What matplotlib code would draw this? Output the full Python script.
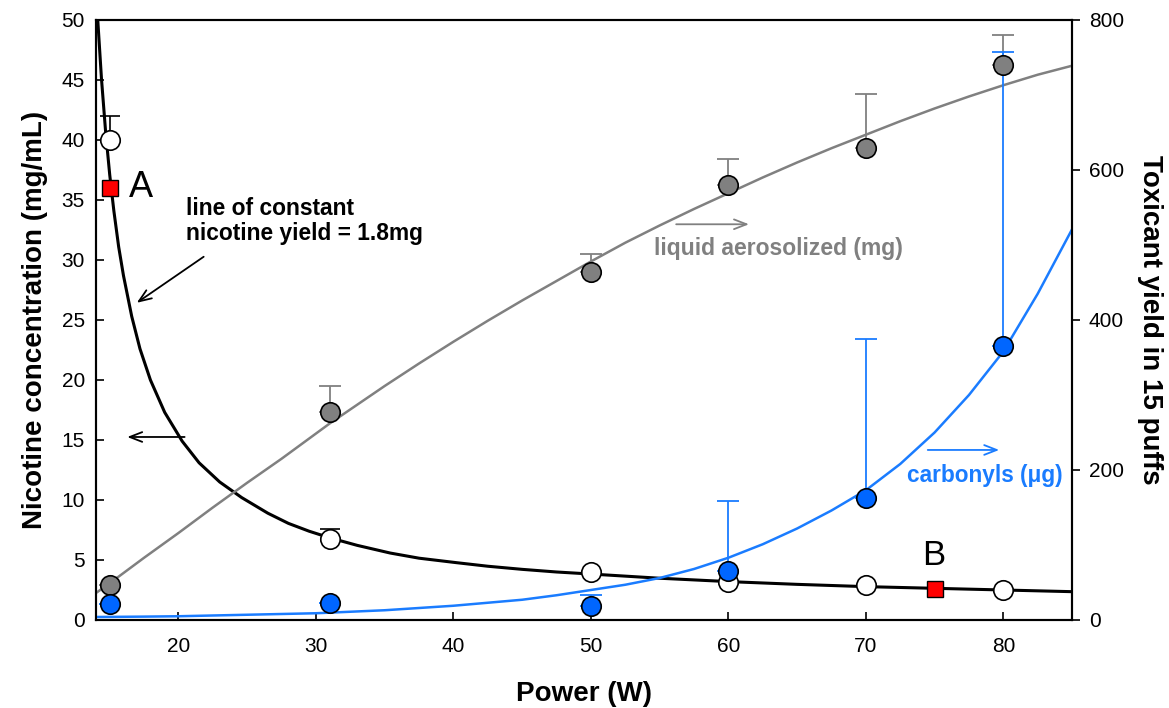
import matplotlib
matplotlib.use("Agg")
import matplotlib.pyplot as plt
import numpy as np

plt.rcParams['font.family'] = ['Liberation Sans', 'DejaVu Sans']

# measured points
power = [15, 31, 50, 60, 70, 80]
nicotine = [40.0, 6.75, 4.0, 3.2, 2.9, 2.5]          # mg/mL, left axis
nicotine_top = [42.0, 7.6, 4.0, 3.2, 2.9, 2.5]      # upper error bar ends
liquid = [47, 277, 464, 580, 629, 740]               # mg, right axis
liquid_top = [47, 312, 488, 615, 701, 780]
carbonyls = [21, 23, 19, 65, 163, 365]               # ug, right axis
carbonyls_top = [21, 23, 33, 158, 375, 757]

# fitted curves
fit_nic_x = [14.13, 14.4, 14.7, 15.0, 15.3, 15.65, 16.0, 16.6, 17.2, 17.96, 19.0,
             20.27, 21.5, 23.0, 24.6, 26.5, 28.0, 29.5, 31, 33, 35.4, 37.5, 40.2,
             42.5, 45, 47.5, 50, 55, 60, 65, 70, 75, 80, 85]
fit_nic_y = [50, 45.1, 40.7, 37.1, 34.1, 31.1, 28.7, 25.3, 22.6, 20.0, 17.3,
             14.9, 13.1, 11.5, 10.2, 8.9, 8.05, 7.4, 6.85, 6.22, 5.58, 5.15, 4.78,
             4.48, 4.22, 4.0, 3.83, 3.48, 3.2, 2.97, 2.78, 2.64, 2.5, 2.36]
fit_liq_x = [14, 15, 17.5, 20, 22.5, 25, 27.5, 31, 33, 35, 37.5, 40, 42.5, 45, 47.5,
             50, 52.5, 55, 57.5, 60, 62.5, 65, 67.5, 70, 72.5, 75, 77.5, 80, 82.5, 85]
fit_liq_y = [36, 49, 83, 116, 150, 183, 215, 262, 287, 312, 342, 371, 399, 426, 452,
             478, 503, 526, 548, 569, 590, 610, 629, 647, 665, 682, 698, 713, 727, 739]
fit_carb_x = [14, 17.5, 20, 22.5, 25, 27.5, 30, 32.5, 35, 37.5, 40, 42.5, 45, 47.5,
              50, 52.5, 55, 57.5, 60, 62.5, 65, 67.5, 70, 72.5, 75, 77.5, 80, 82.5, 85]
fit_carb_y = [4, 4.5, 5, 6, 7, 8, 9, 11, 13, 16, 19, 23, 27, 33,
              40, 47, 56, 68, 83, 101, 122, 146, 173, 208, 250, 300, 358, 435, 521]

# reference points A and B
ref_x = [15, 75]
ref_y = [36, 2.6]
ref_labels = ['A', 'B']

blue = '#0066ff'
blue_line = '#1a7cff'
gray = '#808080'
arrow = '->,head_length=0.9,head_width=0.35'

fig = plt.figure(figsize=(11.69, 7.08), dpi=100)
ax = fig.add_axes([0.0821, 0.1243, 0.8350, 0.8475])
ax2 = ax.twinx()

# left axis: nicotine
ax.plot(fit_nic_x, fit_nic_y, color='black', lw=2.2, zorder=2, solid_joinstyle='round')
nic_err = np.array(nicotine_top) - np.array(nicotine)
ax.errorbar(power, nicotine, yerr=[np.zeros(len(power)), nic_err], fmt='none',
            ecolor='black', elinewidth=1.2, capsize=7, capthick=1.2, zorder=2)
ax.plot(power, nicotine, 'o', ms=14, mfc='white', mec='black', mew=1.2, zorder=3)
ax.plot(ref_x, ref_y, 's', ms=11, mfc='#ff0000', mec='black', mew=1.0, zorder=4)
ax.text(16.4, 36, ref_labels[0], fontsize=26, va='center', ha='left')
ax.text(74.9, 5.4, ref_labels[1], fontsize=25, va='center', ha='center')

ax.text(20.58, 33.25, 'line of constant\nnicotine yield = 1.8mg', fontsize=16.4,
        fontweight='bold', va='center', ha='left', linespacing=1.15)
ax.annotate('', xy=(16.8, 26.3), xytext=(22.0, 30.4),
            arrowprops=dict(arrowstyle=arrow, color='black', lw=1.3))
ax.annotate('', xy=(16.07, 15.25), xytext=(20.65, 15.25),
            arrowprops=dict(arrowstyle=arrow, color='black', lw=1.3))

# right axis: liquid and carbonyls
ax2.plot(fit_liq_x, fit_liq_y, color=gray, lw=1.8, zorder=1, solid_joinstyle='round')
ax2.plot(fit_carb_x, fit_carb_y, color=blue_line, lw=1.8, zorder=1, solid_joinstyle='round')
liq_err = np.array(liquid_top) - np.array(liquid)
carb_err = np.array(carbonyls_top) - np.array(carbonyls)
ax2.errorbar(power, liquid, yerr=[np.zeros(len(power)), liq_err], fmt='none',
             ecolor=gray, elinewidth=1.3, capsize=8, capthick=1.3, zorder=2)
ax2.errorbar(power, carbonyls, yerr=[np.zeros(len(power)), carb_err], fmt='none',
             ecolor=blue_line, elinewidth=1.3, capsize=8, capthick=1.3, zorder=2)
ax2.plot(power, liquid, 'o', ms=14, mfc=gray, mec='black', mew=1.2, zorder=3)
ax2.plot(power, carbonyls, 'o', ms=14, mfc=blue, mec='black', mew=1.2, zorder=4)

ax2.annotate('', xy=(61.7, 527.6), xytext=(56.0, 527.6),
             arrowprops=dict(arrowstyle=arrow, color=gray, lw=1.3))
ax2.text(54.6, 495, 'liquid aerosolized (mg)', color=gray, fontsize=16.5,
         fontweight='bold', va='center', ha='left')
ax2.annotate('', xy=(79.9, 226.7), xytext=(74.3, 226.7),
             arrowprops=dict(arrowstyle=arrow, color=blue_line, lw=1.3))
ax2.text(73.0, 192, 'carbonyls (μg)', color=blue_line, fontsize=16.3,
         fontweight='bold', va='center', ha='left')

# axes
ax.set_xlim(14, 85)
ax.set_ylim(0, 50)
ax2.set_ylim(0, 800)
ax.set_xticks([20, 30, 40, 50, 60, 70, 80])
ax.set_yticks(np.arange(0, 51, 5))
ax2.set_yticks([0, 200, 400, 600, 800])
ax.tick_params(axis='both', direction='in', length=6, width=1.2, labelsize=15, pad=8)
ax.tick_params(axis='x', pad=12)
ax2.tick_params(axis='y', direction='out', length=6, width=1.2, labelsize=15, pad=6)
for a in (ax, ax2):
    for s in a.spines.values():
        s.set_linewidth(1.5)

ax.set_xlabel('Power (W)', fontsize=20, fontweight='bold', labelpad=18)
ax.set_ylabel('Nicotine concentration (mg/mL)', fontsize=20, fontweight='bold', labelpad=10)
ax2.set_ylabel('Toxicant yield in 15 puffs', fontsize=20, fontweight='bold',
               rotation=270, labelpad=28)

fig.savefig('out.png', dpi=100)
